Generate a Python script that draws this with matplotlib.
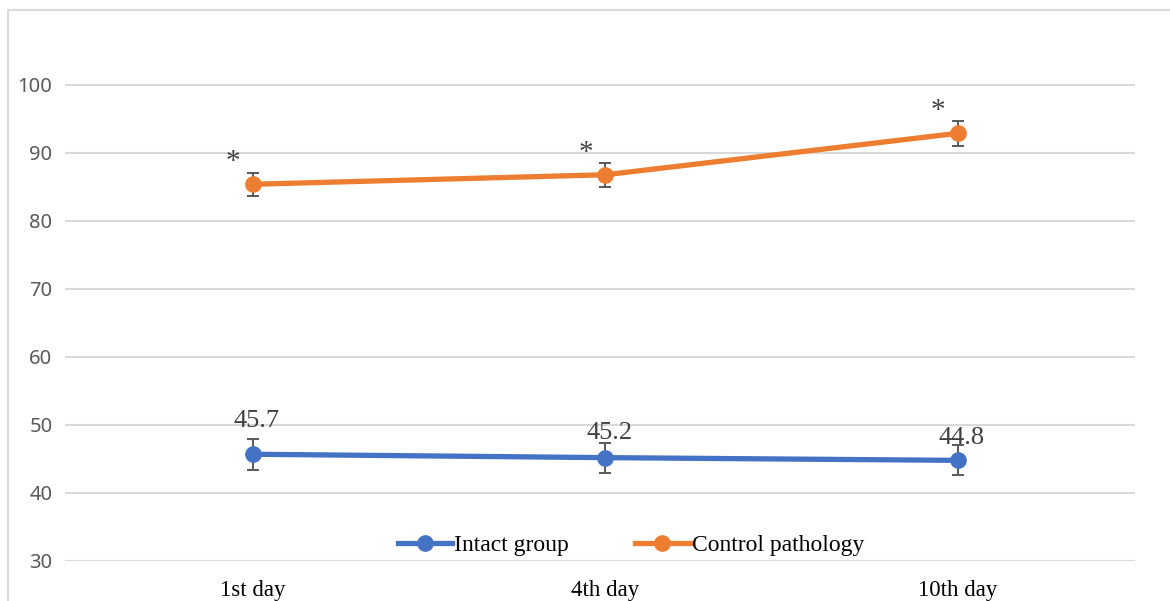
import numpy as np
import matplotlib
matplotlib.use('Agg')
import matplotlib.pyplot as plt
from matplotlib.lines import Line2D

days = ['1st day', '4th day', '10th day']
intact = [45.7, 45.2, 44.8]
intact_err = [2.3, 2.2, 2.2]
control = [85.4, 86.8, 92.9]
control_err = [1.7, 1.8, 1.8]
intact_labels = ['45.7', '45.2', '44.8']
control_marks = ['*', '*', '*']
yticks = [30, 40, 50, 60, 70, 80, 90, 100]

blue = '#4472C4'
orange = '#ED7D31'
grid_c = '#D9D9D9'
err_c = '#595959'
serif = ['Liberation Serif', 'DejaVu Serif']

fig = plt.figure(figsize=(11.7, 6.01), dpi=100)
ax = fig.add_axes([65 / 1170, 1 - 561 / 601, 1070 / 1170, (561 - 23.8) / 601])

x = np.arange(len(days))

# lines with error bars
ax.errorbar(x, intact, yerr=intact_err, color=blue, lw=3.8, marker='o', ms=11,
            ecolor=err_c, elinewidth=1.4, capsize=4.5, capthick=1.4, zorder=3)
ax.errorbar(x, control, yerr=control_err, color=orange, lw=3.8, marker='o', ms=11,
            ecolor=err_c, elinewidth=1.4, capsize=4.5, capthick=1.4, zorder=3)

# data labels
lab_off = [33, 25, 22]
for i in range(len(x)):
    ax.annotate(intact_labels[i], (x[i], intact[i]), xytext=(4, lab_off[i]),
                textcoords='offset pixels', ha='center', va='center',
                fontsize=19, color='#404040', family=serif)
    ax.annotate(control_marks[i], (x[i], control[i]), xytext=(-20, 22),
                textcoords='offset pixels', ha='center', va='center',
                fontsize=21, color='#404040', family=serif)

ax.set_xlim(-0.533, 2.502)
ax.set_ylim(30, 109)
ax.set_yticks(yticks)
ax.set_xticks(x)
ax.set_xticklabels(days, family=serif, fontsize=16.5, color='black')
for t in ax.get_yticklabels():
    t.set_family(['Noto Sans', 'DejaVu Sans'])
    t.set_fontsize(14.5)
    t.set_color('#595959')
ax.tick_params(axis='both', length=0)
ax.tick_params(axis='y', pad=9)
ax.tick_params(axis='x', pad=14)
ax.grid(axis='y', color=grid_c, lw=1.5)
ax.set_axisbelow(True)
for s in ax.spines.values():
    s.set_visible(False)

# legend
handles = [Line2D([], [], color=blue, lw=3.8, marker='o', ms=11),
           Line2D([], [], color=orange, lw=3.8, marker='o', ms=11)]
fig.legend(handles, ['Intact group', 'Control pathology'], loc='center',
           bbox_to_anchor=(631 / 1170, 1 - 545 / 601), ncol=2, frameon=False,
           prop={'family': serif, 'size': 17}, handlelength=2.3,
           handletextpad=0.1, columnspacing=2.8)

# outer chart frame (cropped)
fig.add_artist(Line2D([8 / 1170, 8 / 1170], [0, 1 - 10 / 601], color=grid_c, lw=1.5,
                      transform=fig.transFigure))
fig.add_artist(Line2D([8 / 1170, 1], [1 - 10 / 601, 1 - 10 / 601], color=grid_c, lw=1.5,
                      transform=fig.transFigure))

plt.savefig('out.png', dpi=100)
